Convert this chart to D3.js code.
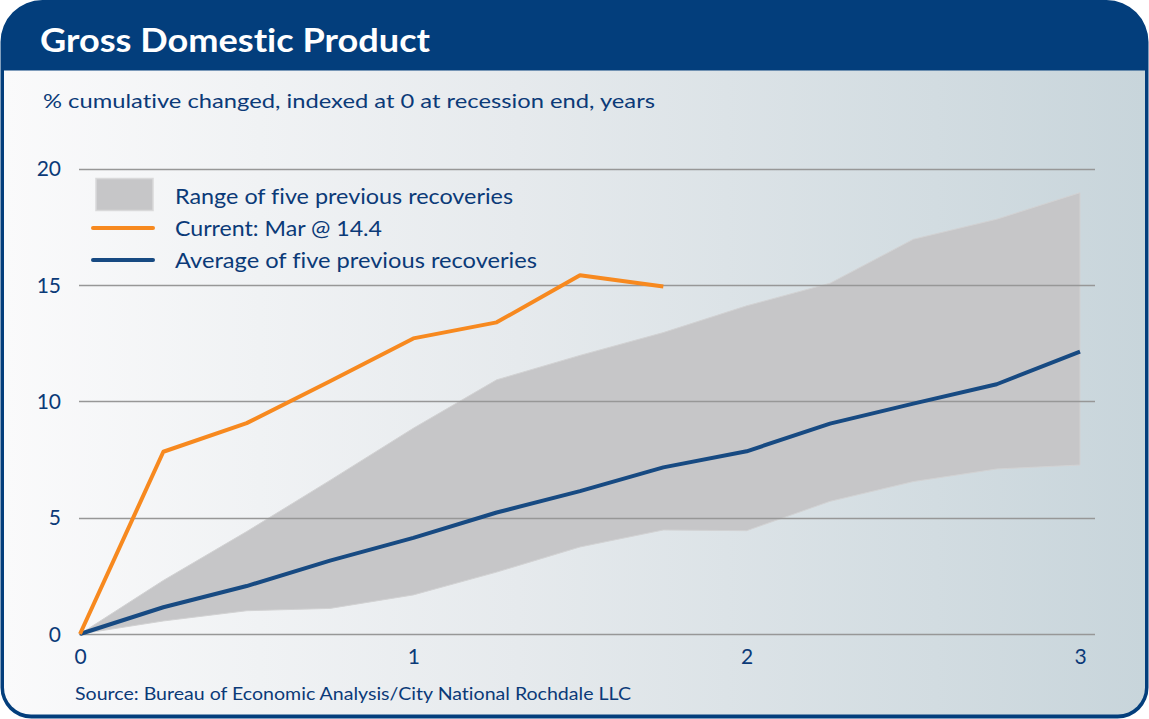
<!DOCTYPE html>
<html>
<head>
<meta charset="utf-8">
<script src="https://cdn.jsdelivr.net/npm/d3@7/dist/d3.min.js"></script>
<style>
  html, body { margin: 0; padding: 0; background: #ffffff; }
  svg { display: block; }
  text { font-family: Lato, "Open Sans", sans-serif; font-variant-ligatures: none; }
</style>
</head>
<body>
<svg id="chart" width="1149" height="719"></svg>
<script>
// ---------- data ----------
const years = [0, 0.25, 0.5, 0.75, 1, 1.25, 1.5, 1.75, 2, 2.25, 2.5, 2.75, 3];
const rangeLow  = [0, 0.56, 1.0, 1.1, 1.68, 2.66, 3.74, 4.47, 4.44, 5.7, 6.55, 7.09, 7.26];
const rangeHigh = [0, 2.3, 4.4, 6.6, 8.84, 10.92, 11.97, 12.95, 14.1, 15.07, 16.96, 17.82, 18.96];
const averageSeries = [0, 1.15, 2.06, 3.15, 4.13, 5.22, 6.14, 7.16, 7.85, 9.04, 9.9, 10.73, 12.13];
const currentYears = [0, 0.25, 0.5, 0.75, 1, 1.25, 1.5, 1.75];
const currentSeries = [0, 7.83, 9.06, 10.86, 12.7, 13.39, 15.41, 14.93];
const yTicks = [0, 5, 10, 15, 20];
const xTicks = [0, 1, 2, 3];
const legendLabels = ["Range of five previous recoveries", "Current: Mar @ 14.4", "Average of five previous recoveries"];
const titleText = "Gross Domestic Product";
const subtitleText = "% cumulative changed, indexed at 0 at recession end, years";
const sourceText = "Source: Bureau of Economic Analysis/City National Rochdale LLC";

// ---------- styles ----------
const navy = "#033e7c";
const textBlue = "#0b3a78";
const orange = "#f7891f";
const lineBlue = "#174a82";
const rangeGray = "#c6c6c8";
const legendWidths = [338, 207, 362];

const svg = d3.select("#chart");
const defs = svg.append("defs");
const grad = defs.append("linearGradient").attr("id", "bg").attr("x1", "0").attr("x2", "1").attr("y1", "0").attr("y2", "0");
grad.append("stop").attr("offset", "0").attr("stop-color", "#fafafb");
grad.append("stop").attr("offset", "0.45").attr("stop-color", "#e6eaed");
grad.append("stop").attr("offset", "1").attr("stop-color", "#c8d5db");

// ---------- frame ----------
function roundedPath(x0, y0, x1, y1, rt, rb) {
  const p = d3.path();
  p.moveTo(x0 + rt, y0);
  p.lineTo(x1 - rt, y0);
  p.arcTo(x1, y0, x1, y0 + rt, rt);
  p.lineTo(x1, y1 - rb);
  p.arcTo(x1, y1, x1 - rb, y1, rb);
  p.lineTo(x0 + rb, y1);
  p.arcTo(x0, y1, x0, y1 - rb, rb);
  p.lineTo(x0, y0 + rt);
  p.arcTo(x0, y0, x0 + rt, y0, rt);
  p.closePath();
  return p.toString();
}
svg.append("path").attr("d", roundedPath(0.5, 0, 1148.5, 718.5, 42, 31)).attr("fill", navy);
svg.append("path").attr("d", (() => {
  const p = d3.path();
  const x0 = 4, y0 = 70.5, x1 = 1145, y1 = 714.5, rb = 27;
  p.moveTo(x0, y0); p.lineTo(x1, y0); p.lineTo(x1, y1 - rb);
  p.arcTo(x1, y1, x1 - rb, y1, rb); p.lineTo(x0 + rb, y1);
  p.arcTo(x0, y1, x0, y1 - rb, rb); p.closePath();
  return p.toString();
})()).attr("fill", "url(#bg)");

svg.append("text").attr("x", 40).attr("y", 52).attr("fill", "#ffffff")
  .attr("font-size", 33).attr("font-weight", 700)
  .attr("textLength", 390).attr("lengthAdjust", "spacingAndGlyphs").text(titleText);
svg.append("text").attr("x", 43).attr("y", 108).attr("fill", textBlue)
  .attr("font-size", 20).attr("textLength", 612).attr("lengthAdjust", "spacingAndGlyphs").text(subtitleText);

// ---------- scales ----------
const x = d3.scaleLinear().domain([0, 3]).range([80, 1080]);
const y = d3.scaleLinear().domain([0, 20]).range([634, 168.5]);

// y axis labels
const yAxis = d3.axisLeft(y).tickValues(yTicks).tickSize(0).tickPadding(0).tickFormat(d3.format("d"));
const gy = svg.append("g").attr("transform", "translate(61,0)").call(yAxis);
gy.select(".domain").remove();
gy.selectAll("text").attr("fill", textBlue).attr("font-size", 21).attr("font-family", "Lato, sans-serif").attr("dy", "0.35em");

// x axis labels
const xAxis = d3.axisBottom(x).tickValues(xTicks).tickSize(0).tickPadding(0).tickFormat(d3.format("d"));
const gx = svg.append("g").attr("transform", "translate(0,648)").call(xAxis);
gx.select(".domain").remove();
gx.selectAll("text").attr("fill", textBlue).attr("font-size", 21).attr("font-family", "Lato, sans-serif").attr("dy", "0.75em");

// range area
const rangeData = years.map((t, i) => ({ t, lo: rangeLow[i], hi: rangeHigh[i] }));
const area = d3.area().x(d => x(d.t)).y0(d => y(d.lo)).y1(d => y(d.hi));
svg.append("path").datum(rangeData).attr("d", area)
  .attr("fill", rangeGray).attr("stroke", "#d2d2d3").attr("stroke-width", 1);

// gridlines (drawn on top of the range)
svg.append("g").selectAll("line").data(yTicks).join("line")
  .attr("x1", 79).attr("x2", 1095)
  .attr("y1", d => Math.round(y(d)) + 0.5).attr("y2", d => Math.round(y(d)) + 0.5)
  .attr("stroke", "#979797").attr("stroke-width", 1.6);

// lines
const line = d3.line().x(d => x(d[0])).y(d => y(d[1]));
svg.append("path").datum(years.map((t, i) => [t, averageSeries[i]])).attr("d", line)
  .attr("fill", "none").attr("stroke", lineBlue).attr("stroke-width", 4).attr("stroke-linejoin", "round");
svg.append("path").datum(currentYears.map((t, i) => [t, currentSeries[i]])).attr("d", line)
  .attr("fill", "none").attr("stroke", orange).attr("stroke-width", 4).attr("stroke-linejoin", "round");

// legend
const lg = svg.append("g");
lg.append("rect").attr("x", 96).attr("y", 178.5).attr("width", 57).attr("height", 32)
  .attr("fill", rangeGray).attr("stroke", "#d9d9da").attr("stroke-width", 1.5);
lg.append("line").attr("x1", 93).attr("x2", 153).attr("y1", 228).attr("y2", 228)
  .attr("stroke", orange).attr("stroke-width", 4).attr("stroke-linecap", "round");
lg.append("line").attr("x1", 93).attr("x2", 153).attr("y1", 260).attr("y2", 260)
  .attr("stroke", lineBlue).attr("stroke-width", 4).attr("stroke-linecap", "round");
lg.selectAll("text").data(legendLabels).join("text")
  .attr("x", 175).attr("y", (d, i) => 204 + i * 32)
  .attr("fill", textBlue).attr("font-size", 21.5)
  .attr("textLength", (d, i) => legendWidths[i]).attr("lengthAdjust", "spacingAndGlyphs")
  .text(d => d);

// source
svg.append("text").attr("x", 75).attr("y", 700).attr("fill", textBlue)
  .attr("font-size", 17).attr("textLength", 556).attr("lengthAdjust", "spacingAndGlyphs")
  .text(sourceText);
</script>
</body>
</html>
